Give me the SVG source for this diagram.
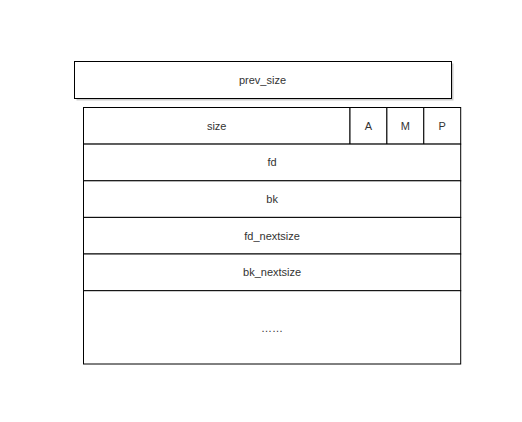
<svg xmlns="http://www.w3.org/2000/svg" width="522" height="422" viewBox="0 0 522 422">
<style>
.box{fill:#ffffff;stroke:#000000;stroke-width:1}
.sh{fill:#bdbdbd;stroke:none;opacity:0.8}
.t{font-family:"Liberation Sans",Arial,Helvetica,sans-serif;font-size:11px;fill:#333333;text-anchor:middle}
</style>
<rect x="0" y="0" width="522" height="422" fill="#ffffff"/>
<g id="prev_size">
<rect class="sh" x="76.5" y="63.5" width="377" height="37"/>
<rect class="box" x="74.5" y="61.5" width="377" height="37"/>
<text class="t" x="262.5" y="83.5">prev_size</text>
</g>
<g id="size">
<rect class="box" x="83.5" y="107.5" width="266.5" height="36.6"/>
<text class="t" x="216.7" y="129.5">size</text>
</g>
<g id="A">
<rect class="box" x="350" y="107.5" width="36.9" height="36.6"/>
<text class="t" x="368.4" y="129.5">A</text>
</g>
<g id="M">
<rect class="box" x="386.9" y="107.5" width="36.9" height="36.6"/>
<text class="t" x="405.3" y="129.5">M</text>
</g>
<g id="P">
<rect class="box" x="423.8" y="107.5" width="36.9" height="36.6"/>
<text class="t" x="442.2" y="129.5">P</text>
</g>
<g id="fd">
<rect class="box" x="83.5" y="144.1" width="377.2" height="36.7"/>
<text class="t" x="272.1" y="166.2">fd</text>
</g>
<g id="bk">
<rect class="box" x="83.5" y="180.8" width="377.2" height="36.6"/>
<text class="t" x="272.1" y="202.9">bk</text>
</g>
<g id="fd_nextsize">
<rect class="box" x="83.5" y="217.4" width="377.2" height="36.6"/>
<text class="t" x="272.1" y="239.5">fd_nextsize</text>
</g>
<g id="bk_nextsize">
<rect class="box" x="83.5" y="254" width="377.2" height="36.7"/>
<text class="t" x="272.1" y="276.1">bk_nextsize</text>
</g>
<g id="rest">
<rect class="box" x="83.5" y="290.7" width="377.2" height="73.3"/>
<text class="t" x="272.1" y="331.5">……</text>
</g>
<g id="connectors"></g>
</svg>
